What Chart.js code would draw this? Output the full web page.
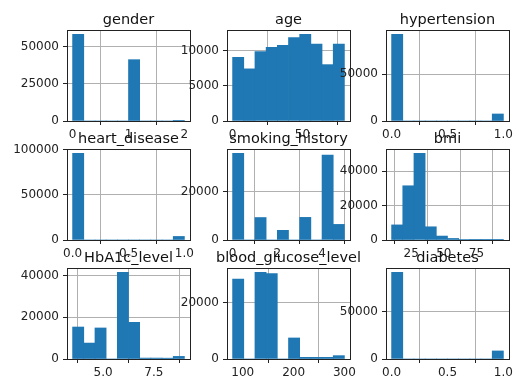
<!DOCTYPE html>
<html>
<head>
<meta charset="utf-8">
<script src="https://cdn.jsdelivr.net/npm/chart.js@4"></script>
<style>
  body { margin: 0; background: #fff; width: 513px; height: 384px; position: relative; overflow: hidden; }
  canvas { position: absolute; }
</style>
</head>
<body>
<script>
// histogram data: [min, max] of the column, then 10 bin counts
var genderRange = [0, 2];
var genderCounts = [58552, 0, 0, 0, 0, 41430, 0, 0, 0, 18];
var ageRange = [0.08, 80];
var ageCounts = [9050, 7400, 9850, 10450, 10750, 11850, 12300, 10900, 8000, 10900];
var hypertensionRange = [0, 1];
var hypertensionCounts = [92515, 0, 0, 0, 0, 0, 0, 0, 0, 7485];
var heartRange = [0, 1];
var heartCounts = [96058, 0, 0, 0, 0, 0, 0, 0, 0, 3942];
var smokingRange = [0, 5];
var smokingCounts = [35816, 0, 9286, 0, 4004, 0, 9352, 0, 35095, 6447];
var bmiRange = [10.01, 95.69];
var bmiCounts = [8800, 31600, 50500, 7700, 2300, 900, 250, 80, 30, 10];
var hba1cRange = [3.5, 9.0];
var hba1cCounts = [15350, 7650, 14900, 0, 41600, 17600, 450, 450, 400, 1250];
var glucoseRange = [80, 300];
var glucoseCounts = [28500, 0, 30900, 30450, 0, 7500, 600, 600, 600, 1200];
var diabetesRange = [0, 1];
var diabetesCounts = [91500, 0, 0, 0, 0, 0, 0, 0, 0, 8500];

// tick labels
var genderXTicks = ['0', '1', '2'];
var genderYTicks = [0, 25000, 50000];
var ageXTicks = ['0', '50'];
var ageYTicks = [0, 5000, 10000];
var hypertensionXTicks = ['0.0', '0.5', '1.0'];
var hypertensionYTicks = [0, 50000];
var heartXTicks = ['0.0', '0.5', '1.0'];
var heartYTicks = [0, 50000, 100000];
var smokingXTicks = ['0', '2', '4'];
var smokingYTicks = [0, 20000];
var bmiXTicks = ['25', '50', '75'];
var bmiYTicks = [0, 20000, 40000];
var hba1cXTicks = ['5.0', '7.5'];
var hba1cYTicks = [0, 20000, 40000];
var glucoseXTicks = ['100', '200', '300'];
var glucoseYTicks = [0, 20000];
var diabetesXTicks = ['0.0', '0.5', '1.0'];
var diabetesYTicks = [0, 50000];

var panels = [
  { title: 'gender', range: genderRange, counts: genderCounts, xt: genderXTicks, yt: genderYTicks },
  { title: 'age', range: ageRange, counts: ageCounts, xt: ageXTicks, yt: ageYTicks },
  { title: 'hypertension', range: hypertensionRange, counts: hypertensionCounts, xt: hypertensionXTicks, yt: hypertensionYTicks },
  { title: 'heart_disease', range: heartRange, counts: heartCounts, xt: heartXTicks, yt: heartYTicks },
  { title: 'smoking_history', range: smokingRange, counts: smokingCounts, xt: smokingXTicks, yt: smokingYTicks },
  { title: 'bmi', range: bmiRange, counts: bmiCounts, xt: bmiXTicks, yt: bmiYTicks },
  { title: 'HbA1c_level', range: hba1cRange, counts: hba1cCounts, xt: hba1cXTicks, yt: hba1cYTicks },
  { title: 'blood_glucose_level', range: glucoseRange, counts: glucoseCounts, xt: glucoseXTicks, yt: glucoseYTicks },
  { title: 'diabetes', range: diabetesRange, counts: diabetesCounts, xt: diabetesXTicks, yt: diabetesYTicks }
];

// grid geometry
var colLeft = [67, 227, 386];
var rowTop = [30, 149, 268];
var plotW = 123, plotH = 91;
var padL = 60, padT = 30, padR = 20, padB = 24;

var FONT = '"DejaVu Sans", sans-serif';

// axes box + title (drawn above the plot like matplotlib)
var frame = {
  id: 'frame',
  afterDraw: function (chart, args, opts) {
    var a = chart.chartArea, ctx = chart.ctx;
    ctx.save();
    ctx.strokeStyle = '#222';
    ctx.lineWidth = 1;
    ctx.strokeRect(Math.round(a.left) + 0.5, Math.round(a.top) + 0.5,
      Math.round(a.right - a.left), Math.round(a.bottom - a.top));
    ctx.fillStyle = '#111';
    ctx.font = '14.5px ' + FONT;
    ctx.textAlign = 'center';
    ctx.textBaseline = 'alphabetic';
    ctx.fillText(opts.text, (a.left + a.right) / 2, a.top - 6);
    ctx.restore();
  }
};

panels.forEach(function (p, k) {
  var col = k % 3, row = Math.floor(k / 3);
  var cv = document.createElement('canvas');
  cv.width = plotW + padL + padR;
  cv.height = plotH + padT + padB;
  cv.style.left = (colLeft[col] - padL) + 'px';
  cv.style.top = (rowTop[row] - padT) + 'px';
  document.body.appendChild(cv);

  var lo = p.range[0], hi = p.range[1];
  var bw = (hi - lo) / p.counts.length;
  var pts = p.counts.map(function (c, i) { return { x: lo + (i + 0.5) * bw, y: c }; });
  var span = hi - lo;
  var ymax = Math.max.apply(null, p.counts) * 1.05;
  var xVals = p.xt.map(parseFloat);

  new Chart(cv.getContext('2d'), {
    type: 'bar',
    data: {
      datasets: [{
        data: pts,
        backgroundColor: '#1f77b4',
        borderWidth: 0,
        barPercentage: 1,
        categoryPercentage: 1
      }]
    },
    options: {
      responsive: false,
      animation: false,
      layout: { padding: { top: padT, right: padR, left: 0, bottom: 0 } },
      plugins: { legend: { display: false }, tooltip: { enabled: false }, frame: { text: p.title } },
      scales: {
        x: {
          type: 'linear',
          offset: false,
          min: lo - 0.05 * span,
          max: hi + 0.05 * span,
          z: 1,
          afterBuildTicks: function (s) { s.ticks = xVals.map(function (v) { return { value: v }; }); },
          afterFit: function (s) { s.height = padB; },
          border: { display: false },
          grid: { color: '#b0b0b0', lineWidth: 1, tickColor: '#222', tickLength: 4, tickWidth: 1 },
          ticks: {
            autoSkip: false, maxRotation: 0, padding: 3,
            color: '#222', font: { family: FONT, size: 12 },
            callback: function (v, i) { return p.xt[i]; }
          }
        },
        y: {
          min: 0,
          max: ymax,
          z: 1,
          afterBuildTicks: function (s) { s.ticks = p.yt.map(function (v) { return { value: v }; }); },
          afterFit: function (s) { s.width = padL; },
          border: { display: false },
          grid: { color: '#b0b0b0', lineWidth: 1, tickColor: '#222', tickLength: 4, tickWidth: 1 },
          ticks: {
            autoSkip: false, padding: 4,
            color: '#222', font: { family: FONT, size: 12 },
            callback: function (v) { return String(v); }
          }
        }
      }
    },
    plugins: [frame]
  });
});
</script>
</body>
</html>
